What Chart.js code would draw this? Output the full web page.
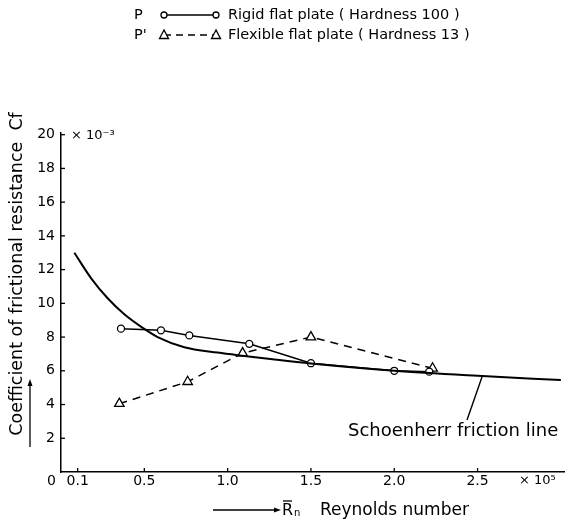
<!DOCTYPE html>
<html lang="en">
  <head>
    <meta charset="UTF-8" />
    <title>Frictional resistance</title>
    <script src="https://cdn.jsdelivr.net/npm/chart.js@4"></script>
    <style>
      html, body { margin: 0; padding: 0; background: #fff; }
      #frictionChart { display: block; }
    </style>
  </head>
  <body>
    <canvas id="frictionChart" width="571" height="519"></canvas>

    <script>
      // values (Rn in units of 10^5, Cf in units of 10^-3)
      const rigidX = [0.36, 0.6, 0.77, 1.13, 1.5, 2.0, 2.21];
      const rigidY = [8.5, 8.4, 8.1, 7.6, 6.45, 6.0, 5.95];
      const flexX = [0.35, 0.76, 1.09, 1.5, 2.23];
      const flexY = [4.05, 5.35, 7.05, 8.0, 6.15];
      const schoenX = [0.08, 0.18, 0.28, 0.38, 0.49, 0.58, 0.74, 0.94, 1.1, 1.27, 1.5, 2.0, 2.5, 3.0];
      const schoenY = [13.0, 11.5, 10.3, 9.35, 8.55, 8.0, 7.4, 7.08, 6.88, 6.68, 6.43, 6.0, 5.7, 5.45];
      const xTicks = [0.1, 0.5, 1.0, 1.5, 2.0, 2.5];
      const xTickLabels = ["0.1", "0.5", "1.0", "1.5", "2.0", "2.5"];
      const yTicks = [2, 4, 6, 8, 10, 12, 14, 16, 18, 20];

      const FONT = "DejaVu Sans";
      const toPts = (xs, ys) => xs.map((x, i) => ({ x: x, y: ys[i] }));

      function arrowHead(c, x, y, dir) {
        // dir: "up" or "right"
        c.beginPath();
        if (dir === "up") {
          c.moveTo(x, y);
          c.lineTo(x - 2.5, y + 7);
          c.lineTo(x + 2.5, y + 7);
        } else {
          c.moveTo(x, y);
          c.lineTo(x - 7, y - 2.5);
          c.lineTo(x - 7, y + 2.5);
        }
        c.closePath();
        c.fill();
      }

      function marker(c, x, y, kind) {
        c.save();
        c.fillStyle = "#fff";
        c.strokeStyle = "#000";
        c.lineWidth = 1.3;
        c.beginPath();
        if (kind === "circle") {
          c.arc(x, y, 3, 0, Math.PI * 2);
        } else {
          c.moveTo(x, y - 5);
          c.lineTo(x - 4.5, y + 3.5);
          c.lineTo(x + 4.5, y + 3.5);
          c.closePath();
        }
        c.fill();
        c.stroke();
        c.restore();
      }

      // legend, inward ticks, titles and notes
      const decorations = {
        id: "decorations",
        afterDraw(chart) {
          const c = chart.ctx;
          const xs = chart.scales.x;
          const ys = chart.scales.y;
          const area = chart.chartArea;
          c.save();
          c.strokeStyle = "#000";
          c.fillStyle = "#000";
          c.lineWidth = 1.3;

          // inward tick marks
          yTicks.forEach((v) => {
            const py = ys.getPixelForValue(v);
            c.beginPath();
            c.moveTo(area.left, py);
            c.lineTo(area.left + 4, py);
            c.stroke();
          });
          xTicks.forEach((v) => {
            const px = xs.getPixelForValue(v);
            c.beginPath();
            c.moveTo(px, area.bottom);
            c.lineTo(px, area.bottom - 4);
            c.stroke();
          });

          c.textBaseline = "middle";
          c.textAlign = "left";

          // legend
          c.font = "14.5px " + FONT;
          c.fillText("P", 134, 15);
          c.fillText("P'", 134, 35);
          c.lineWidth = 1.5;
          c.beginPath();
          c.moveTo(164, 15);
          c.lineTo(216, 15);
          c.stroke();
          marker(c, 164, 15, "circle");
          marker(c, 216, 15, "circle");
          c.setLineDash([7, 5]);
          c.beginPath();
          c.moveTo(164, 35);
          c.lineTo(216, 35);
          c.stroke();
          c.setLineDash([]);
          marker(c, 164, 35, "triangle");
          marker(c, 216, 35, "triangle");
          c.fillText("Rigid flat plate ( Hardness 100 )", 228, 15);
          c.fillText("Flexible flat plate ( Hardness 13 )", 228, 35);

          // scale factors and origin
          c.font = "13px " + FONT;
          c.fillText("\u00d7 10\u207b\u00b3", 71, 136);
          c.fillText("\u00d7 10\u2075", 519, 481);
          c.font = "14px " + FONT;
          c.fillText("0", 47, 481);

          // Schoenherr note
          c.font = "18px " + FONT;
          c.fillText("Schoenherr friction line", 348, 431);
          c.lineWidth = 1.4;
          c.beginPath();
          c.moveTo(467, 420);
          c.lineTo(482, 377);
          c.stroke();

          // y title with arrow
          c.save();
          c.translate(17, 274);
          c.rotate(-Math.PI / 2);
          c.textAlign = "center";
          c.font = "17.5px " + FONT;
          c.fillText("Coefficient of frictional resistance  Cf", 0, 0);
          c.restore();
          c.lineWidth = 1.3;
          c.beginPath();
          c.moveTo(30, 447);
          c.lineTo(30, 384);
          c.stroke();
          arrowHead(c, 30, 379, "up");

          // x title with arrow
          c.beginPath();
          c.moveTo(213, 510);
          c.lineTo(274, 510);
          c.stroke();
          arrowHead(c, 281, 510, "right");
          c.font = "16px " + FONT;
          c.fillText("R", 282, 511);
          c.beginPath();
          c.moveTo(283, 501);
          c.lineTo(292, 501);
          c.stroke();
          c.font = "10px " + FONT;
          c.fillText("n", 294, 513);
          c.font = "17px " + FONT;
          c.fillText("Reynolds number", 320, 511);

          c.restore();
        },
      };

      const ctx = document.getElementById("frictionChart").getContext("2d");
      const frictionChart = new Chart(ctx, {
        type: "scatter",
        data: {
          datasets: [
            {
              label: "Schoenherr friction line",
              data: toPts(schoenX, schoenY),
              showLine: true,
              borderColor: "#000",
              borderWidth: 2,
              pointRadius: 0,
              cubicInterpolationMode: "monotone",
            },
            {
              label: "Rigid flat plate (Hardness 100)",
              data: toPts(rigidX, rigidY),
              showLine: true,
              borderColor: "#000",
              borderWidth: 1.5,
              pointStyle: "circle",
              pointRadius: 3.5,
              pointBackgroundColor: "#fff",
              pointBorderColor: "#000",
              pointBorderWidth: 1.3,
            },
            {
              label: "Flexible flat plate (Hardness 13)",
              data: toPts(flexX, flexY),
              showLine: true,
              borderColor: "#000",
              borderWidth: 1.5,
              borderDash: [8, 6],
              pointStyle: "triangle",
              pointRadius: 5.5,
              pointBackgroundColor: "#fff",
              pointBorderColor: "#000",
              pointBorderWidth: 1.3,
            },
          ],
        },
        options: {
          responsive: false,
          animation: false,
          layout: { padding: { top: 133, right: 1, left: 0, bottom: 0 } },
          plugins: {
            legend: { display: false },
            tooltip: { enabled: false },
          },
          scales: {
            x: {
              type: "linear",
              min: 0,
              max: 3.02,
              afterFit(scale) {
                scale.height = 47;
              },
              afterBuildTicks(scale) {
                scale.ticks = xTicks.map((v) => ({ value: v }));
              },
              grid: { display: false, drawTicks: false },
              border: { display: true, color: "#000", width: 1.5 },
              ticks: {
                padding: 1,
                color: "#000",
                font: { family: FONT, size: 14 },
                maxRotation: 0,
                callback: (v) => xTickLabels[xTicks.indexOf(v)],
              },
            },
            y: {
              min: 0,
              max: 20.1,
              afterFit(scale) {
                scale.width = 61;
              },
              afterBuildTicks(scale) {
                scale.ticks = yTicks.map((v) => ({ value: v }));
              },
              grid: { display: false, drawTicks: false },
              border: { display: true, color: "#000", width: 1.5 },
              ticks: {
                padding: 6,
                color: "#000",
                font: { family: FONT, size: 14 },
              },
            },
          },
        },
        plugins: [decorations],
      });
    </script>
  </body>
</html>
